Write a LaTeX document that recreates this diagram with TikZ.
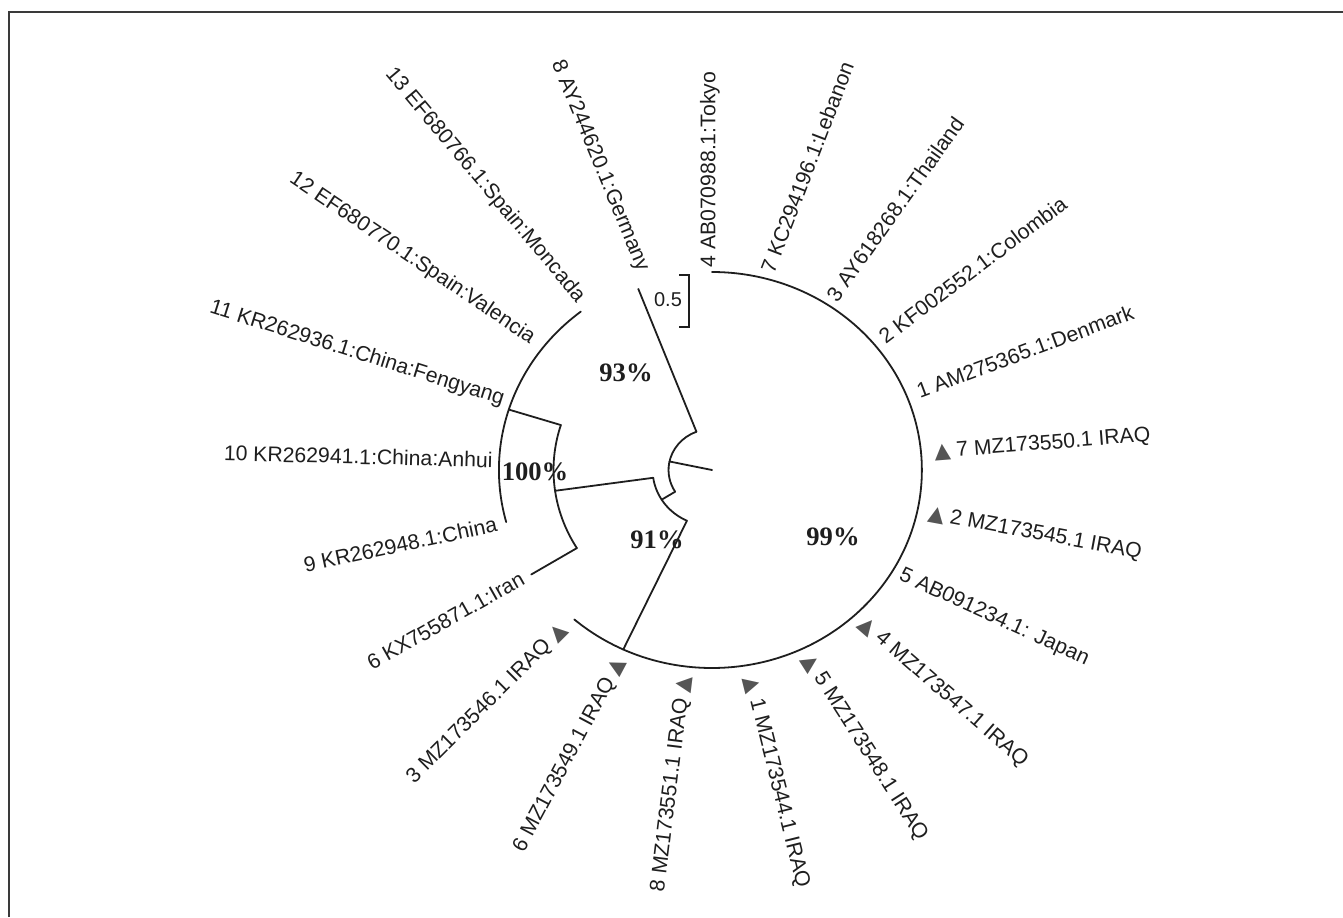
\documentclass[tikz,border=0pt]{standalone}
\usepackage{fontspec}
\setmainfont{Liberation Sans}
\newfontfamily\seriftimes{Liberation Serif}
\newfontfamily\symboles{DejaVu Sans}
\usetikzlibrary{positioning}
\definecolor{gristri}{HTML}{555555}
\definecolor{griscadre}{HTML}{3A3A3A}
\definecolor{encre}{HTML}{1E1E1E}
\newcommand{\marqueur}{{\symboles\color{gristri}▲}}

\begin{document}
\begin{tikzpicture}[x=0.5pt, y=0.5pt,
    branche/.style={encre, line width=0.9pt, line cap=round},
    feuilleD/.style={anchor=west, inner sep=0pt, text=encre, font=\fontsize{10.6}{12}\selectfont},
    feuilleG/.style={anchor=east, inner sep=0pt, text=encre, font=\fontsize{10.6}{12}\selectfont},
    boot/.style={text=encre, font=\seriftimes\bfseries\fontsize{13.3}{15}\selectfont}]

    \useasboundingbox (0,0) rectangle (1343,917);

    % Cadre
    \draw[griscadre, line width=0.8pt] (9,0) |- (1343,905);

    % Centre de l'arbre
    \coordinate (centre) at (712,447);

    \begin{scope}[shift={(centre)}, xscale=1.06]
        % Noeuds internes (coordonnees polaires)
        \coordinate (racine) at (0:0);
        \coordinate (n1) at (168:41);
        \coordinate (n1h) at (111:41);
        \coordinate (n1b) at (212:41);
        \coordinate (n2) at (212:56);
        \coordinate (n2h) at (188:56);
        \coordinate (n2b) at (245:56);
        \coordinate (n3) at (188:149.5);
        \coordinate (n3h) at (162.5:149.5);
        \coordinate (n3b) at (211.5:149.5);
        \coordinate (n4) at (162.5:201);
        \coordinate (n4h) at (128:201);
        \coordinate (n5) at (245:198);
        \coordinate (n5b) at (-131:198);
        \coordinate (allemagne) at (111:194);
        \coordinate (iran) at (211.5:200);

        % Branches radiales
        \draw[branche] (racine) -- (n1);
        \draw[branche] (n1h) -- (allemagne);
        \draw[branche] (n1b) -- (n2);
        \draw[branche] (n2h) -- (n3);
        \draw[branche] (n2b) -- (n5);
        \draw[branche] (n3h) -- (n4);
        \draw[branche] (n3b) -- (iran);

        % Arcs
        \draw[branche] (n1h) arc[start angle=111, end angle=212, radius=41];
        \draw[branche] (n2h) arc[start angle=188, end angle=245, radius=56];
        \draw[branche] (n3h) arc[start angle=162.5, end angle=211.5, radius=149.5];
        \draw[branche] (n4h) arc[start angle=128, end angle=195, radius=201];
        \draw[branche] (n5b) arc[start angle=-131, end angle=90, radius=198];
    \end{scope}

    % Echelle
    \coordinate (echH) at (679,642);
    \coordinate (echB) at (679,590);
    \draw[branche, line cap=butt] (echH) -| (689,616) |- (echB);
    \node[text=encre, font=\fontsize{10}{12}\selectfont] (ech) at (668,617) {0.5};

    % Valeurs de bootstrap
    \node[boot] (b93) at (626,544) {93\%};
    \node[boot] (b100) at (535,445) {100\%};
    \node[boot] (b91) at (657,377) {91\%};
    \node[boot] (b99) at (833,380) {99\%};

    % Etiquettes, moitie droite
    \node[feuilleD, rotate=90] (f4tokyo) at (710,649) {4 AB070988.1:Tokyo};
    \node[feuilleD, rotate=69] (f7liban) at (767,645) {7 KC294196.1:Lebanon};
    \node[feuilleD, rotate=54.5] (f3thai) at (831,618) {3 AY618268.1:Thailand};
    \node[feuilleD, rotate=37] (f2colo) at (881,578) {2 KF002552.1:Colombia};
    \node[feuilleD, rotate=20.5] (f1dan) at (917,525) {1 AM275365.1:Denmark};
    \node[feuilleD, rotate=4.5] (i7) at (934,464) {\marqueur\ 7 MZ173550.1 IRAQ};
    \node[feuilleD, rotate=-10.5] (i2) at (928,403) {\marqueur\ 2 MZ173545.1 IRAQ};
    \node[feuilleD, rotate=-24.5] (f5jap) at (900,342) {5 AB091234.1: Japan};
    \node[feuilleD, rotate=-41] (i4) at (861,296) {\marqueur\ 4 MZ173547.1 IRAQ};
    \node[feuilleD, rotate=-57.5] (i5) at (806,261) {\marqueur\ 5 MZ173548.1 IRAQ};
    \node[feuilleD, rotate=-76] (i1) at (750,240) {\marqueur\ 1 MZ173544.1 IRAQ};

    % Etiquettes, moitie gauche
    \node[feuilleG, rotate=83] (i8) at (685,241) {8 MZ173551.1 IRAQ \marqueur};
    \node[feuilleG, rotate=62] (i6) at (621,258) {6 MZ173549.1 IRAQ \marqueur};
    \node[feuilleG, rotate=45] (i3) at (564,290) {3 MZ173546.1 IRAQ \marqueur};
    \node[feuilleG, rotate=29.5] (f6iran) at (523,340) {6 KX755871.1:Iran};
    \node[feuilleG, rotate=12] (f9chine) at (497,393) {9 KR262948.1:China};
    \node[feuilleG, rotate=-1.5] (f10anhui) at (493,457) {10 KR262941.1:China:Anhui};
    \node[feuilleG, rotate=-17.5] (f11feng) at (504,517) {11 KR262936.1:China:Fengyang};
    \node[feuilleG, rotate=-34] (f12val) at (533,577) {12 EF680770.1:Spain:Valencia};
    \node[feuilleG, rotate=-50] (f13mon) at (581,617) {13 EF680766.1:Spain:Moncada};
    \node[feuilleG, rotate=-67.5] (f8all) at (643,646) {8 AY244620.1:Germany};

\end{tikzpicture}
\end{document}
